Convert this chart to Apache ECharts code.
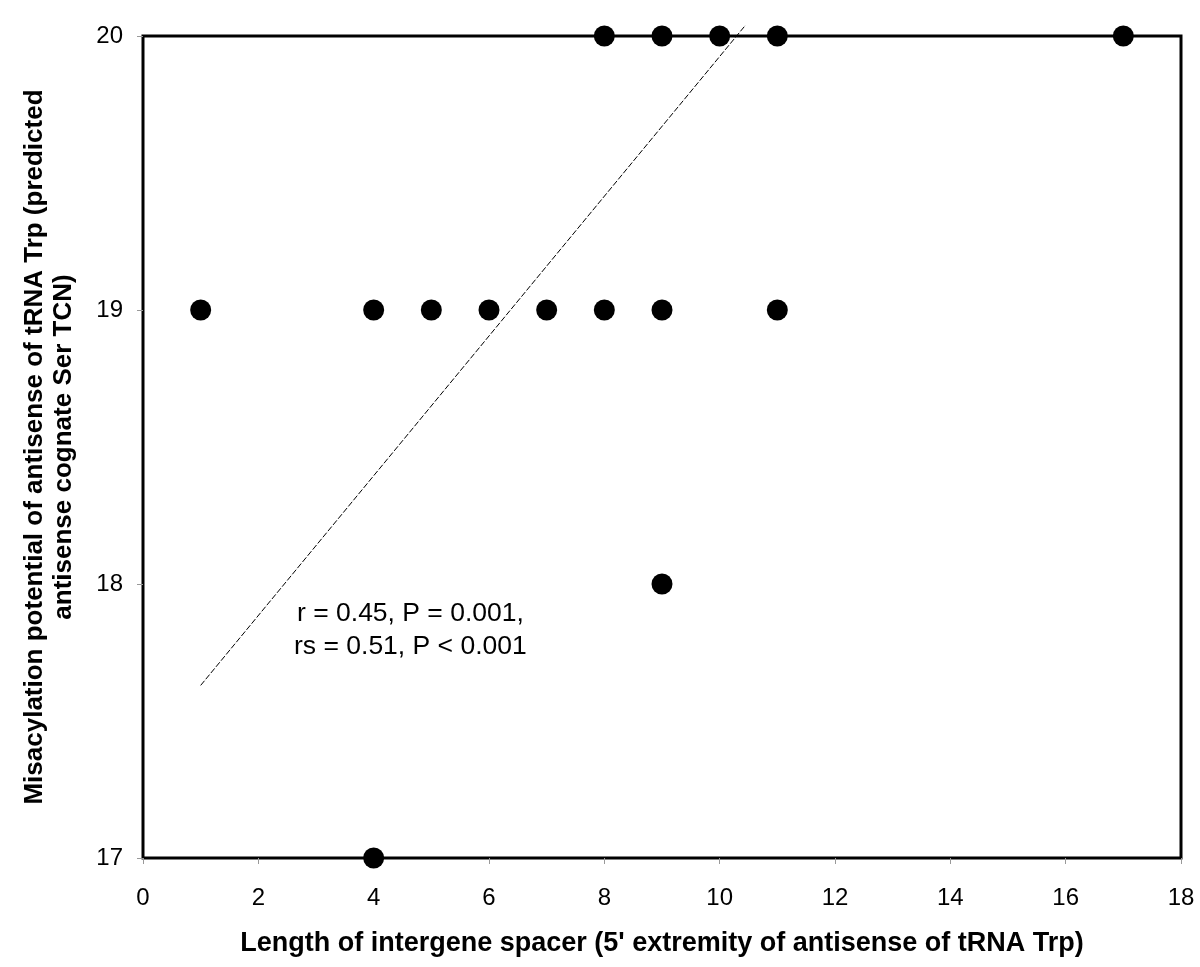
<!DOCTYPE html>
<html><head><meta charset="utf-8">
<script src="https://cdn.jsdelivr.net/npm/echarts@6/dist/echarts.min.js"></script>
<style>html,body{margin:0;padding:0;background:#fff}#c{width:1200px;height:967px}</style>
</head><body><div id="c"></div>
<script>
const spacerLength = [8, 9, 10, 11, 17, 1, 4, 5, 6, 7, 8, 9, 11, 9, 4];
const misacylation = [20, 20, 20, 20, 20, 19, 19, 19, 19, 19, 19, 19, 19, 18, 17];
const trendX = [1, 10.45];
const trendY = [17.63, 20.04];
const xTicks = [0, 2, 4, 6, 8, 10, 12, 14, 16, 18];
const yTicks = [17, 18, 19, 20];
const annotation = ['r = 0.45, P = 0.001,', 'rs = 0.51, P < 0.001'];

const chart = echarts.init(document.getElementById('c'), null, {renderer: 'canvas'});
const font = 'Liberation Sans, Arial, sans-serif';
chart.setOption({
  animation: false,
  backgroundColor: '#fff',
  grid: {left: 143, right: 19, top: 36, bottom: 109, containLabel: false, outerBoundsMode: 'none',
         show: true, borderColor: '#000', borderWidth: 3, backgroundColor: 'transparent'},
  xAxis: {
    type: 'value', min: xTicks[0], max: xTicks[xTicks.length - 1], interval: 2,
    axisLine: {show: false},
    axisTick: {show: true, length: 6, lineStyle: {color: '#999', width: 1}},
    splitLine: {show: false},
    axisLabel: {fontFamily: font, fontSize: 24, color: '#000', margin: 28},
    name: 'Length of intergene spacer (5\' extremity of antisense of tRNA Trp)',
    nameLocation: 'middle', nameGap: 86,
    nameTextStyle: {fontFamily: font, fontSize: 27, fontWeight: 'bold', color: '#000', verticalAlign: 'middle'}
  },
  yAxis: {
    type: 'value', min: yTicks[0], max: yTicks[yTicks.length - 1], interval: 1,
    axisLine: {show: false},
    axisTick: {show: true, length: 6, lineStyle: {color: '#999', width: 1}},
    splitLine: {show: false},
    axisLabel: {fontFamily: font, fontSize: 24, color: '#000', margin: 20},
    name: 'Misacylation potential of antisense of tRNA Trp (predicted\nantisense cognate Ser TCN)',
    nameLocation: 'middle', nameGap: 94, nameRotate: 90,
    nameTextStyle: {fontFamily: font, fontSize: 26, fontWeight: 'bold', color: '#000', lineHeight: 29, verticalAlign: 'middle'}
  },
  series: [
    {
      type: 'line', data: trendX.map((x, i) => [x, trendY[i]]),
      showSymbol: false, symbol: 'none', clip: false, z: 3,
      lineStyle: {color: '#000', width: 1, type: [6, 2]}
    },
    {
      type: 'scatter', data: spacerLength.map((x, i) => [x, misacylation[i]]),
      symbol: 'circle', symbolSize: 21, clip: false, z: 4,
      itemStyle: {color: '#000', opacity: 1}
    }
  ],
  graphic: [
    {type: 'text', x: 297, y: 614, style: {text: annotation[0], font: '26.5px ' + font, fill: '#000', textAlign: 'left', textVerticalAlign: 'middle'}},
    {type: 'text', x: 294, y: 647, style: {text: annotation[1], font: '26.5px ' + font, fill: '#000', textAlign: 'left', textVerticalAlign: 'middle'}}
  ]
});
</script></body></html>
